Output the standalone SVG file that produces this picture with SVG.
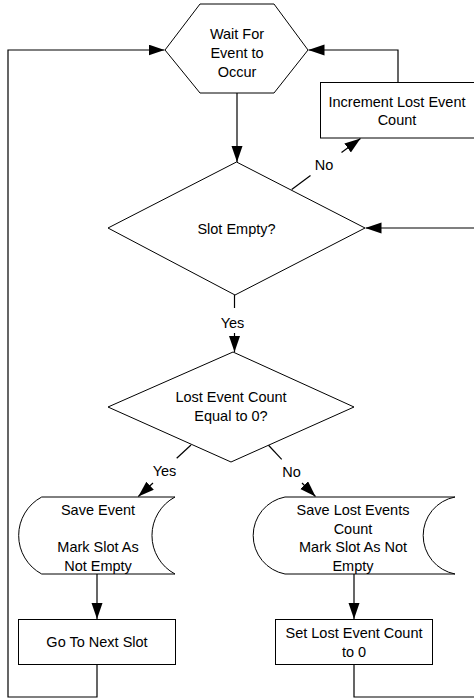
<svg xmlns="http://www.w3.org/2000/svg" width="474" height="698" viewBox="0 0 474 698">
  <defs>
    <marker id="arrow" markerUnits="userSpaceOnUse" markerWidth="16" markerHeight="12" refX="16" refY="5.5" orient="auto">
      <path d="M0,0 L16,5.5 L0,11 Z" fill="#000"/>
    </marker>
    <style>
      .shape { fill: #fff; stroke: #000; stroke-width: 1; }
      .line { fill: none; stroke: #000; stroke-width: 1.2; }
      .arr { marker-end: url(#arrow); }
      text { font-family: "Liberation Sans", Arial, sans-serif; font-size: 14.5px; fill: #000; text-anchor: middle; }
    </style>
  </defs>
  <rect width="474" height="698" fill="#fff"/>

  <!-- connectors -->
  <g id="connectors">
    <path class="line arr" d="M237 93 V162"/>
    <path class="line arr" d="M97 664 V697 H8 V50 H164.5"/>
    <path class="line arr" d="M398 82 V50 H308.5"/>
    <path class="line" d="M291.7 189.5 L310.5 175.5"/>
    <path class="line arr" d="M341.5 152.5 L360.5 138.5"/>
    <path class="line arr" d="M354 664 V697 H477 V228 H365.5"/>
    <path class="line" d="M234.5 295 V308"/>
    <path class="line arr" d="M234.5 333 V352"/>
    <path class="line" d="M191 445 L176.7 458.3"/>
    <path class="line arr" d="M153 483 L138.3 496.5"/>
    <path class="line" d="M268.3 445 L281.7 459.3"/>
    <path class="line arr" d="M302 483 L315.5 496.5"/>
    <path class="line arr" d="M97 574 V619"/>
    <path class="line arr" d="M354 574 V619"/>
  </g>

  <g id="wait-event">
    <polygon class="shape" points="200,4 274,4 308,50 274,93 200,93 165,50"/>
    <text x="237" y="38.5">Wait For</text>
    <text x="237" y="57.5">Event to</text>
    <text x="237" y="76.5">Occur</text>
  </g>

  <g id="increment-lost">
    <rect class="shape" x="320.5" y="82.5" width="154" height="55.5"/>
    <text x="397" y="107">Increment Lost Event</text>
    <text x="397" y="125">Count</text>
  </g>

  <g id="slot-empty">
    <polygon class="shape" points="236.5,162 365,228 235,295 108,228"/>
    <text x="236.5" y="233.5">Slot Empty?</text>
  </g>

  <g id="lost-count-zero">
    <polygon class="shape" points="233,352 354,407 231,462 108,407"/>
    <text x="231" y="402">Lost Event Count</text>
    <text x="231" y="421">Equal to 0?</text>
  </g>

  <g id="save-event">
    <path class="shape" d="M41.7 497 L175 497 A43.7 43.7 0 0 0 175 574 L41.7 574 A43.7 43.7 0 0 1 41.7 497 Z"/>
    <text x="98" y="515">Save Event</text>
    <text x="98" y="552">Mark Slot As</text>
    <text x="98" y="571">Not Empty</text>
  </g>

  <g id="save-lost-count">
    <path class="shape" d="M285 497 L455 497 A39.2 39.2 0 0 0 455 574 L285 574 A39.2 39.2 0 0 1 285 497 Z"/>
    <text x="353" y="515">Save Lost Events</text>
    <text x="353" y="534">Count</text>
    <text x="353" y="552">Mark Slot As Not</text>
    <text x="353" y="571">Empty</text>
  </g>

  <g id="next-slot">
    <rect class="shape" x="18.5" y="619.5" width="157" height="45"/>
    <text x="97" y="647">Go To Next Slot</text>
  </g>

  <g id="reset-count">
    <rect class="shape" x="275.5" y="619.5" width="157" height="45"/>
    <text x="354" y="638">Set Lost Event Count</text>
    <text x="354" y="657">to 0</text>
  </g>

  <!-- branch labels -->
  <g id="labels">
    <text x="324" y="170">No</text>
    <text x="232.5" y="328">Yes</text>
    <text x="164.5" y="476">Yes</text>
    <text x="291.5" y="477">No</text>
  </g>
</svg>
